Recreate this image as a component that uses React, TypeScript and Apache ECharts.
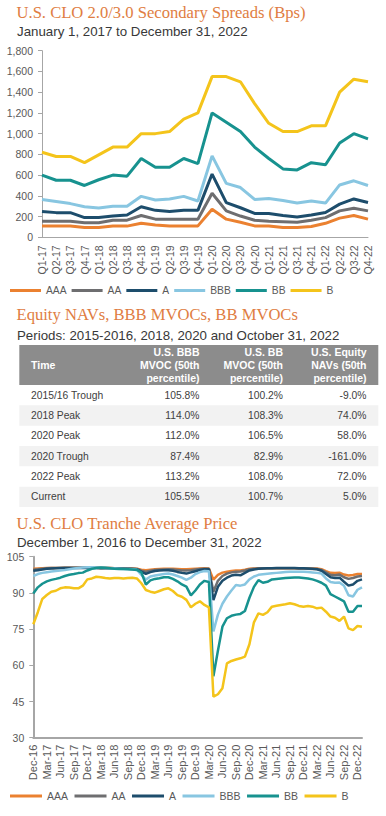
import React, { useEffect, useRef } from "react";
import * as echarts from "echarts";

// ---------- Chart 1: U.S. CLO 2.0/3.0 Secondary Spreads (Bps) ----------
const quarters = ["Q1-17","Q2-17","Q3-17","Q4-17","Q1-18","Q2-18","Q3-18","Q4-18","Q1-19","Q2-19","Q3-19","Q4-19","Q1-20","Q2-20","Q3-20","Q4-20","Q1-21","Q2-21","Q3-21","Q4-21","Q1-22","Q2-22","Q3-22","Q4-22"];
const spreadAAA = [110,110,110,95,95,108,108,135,118,110,110,110,270,175,145,110,110,95,95,105,135,185,210,175];
const spreadAA = [155,155,155,140,140,165,165,210,175,175,175,175,425,255,205,165,155,150,145,165,190,255,280,255];
const spreadA = [250,238,238,190,190,205,215,295,260,250,260,260,610,335,285,230,230,210,195,215,240,320,370,335];
const spreadBBB = [365,345,325,295,282,300,300,395,360,370,395,350,785,520,480,365,375,355,330,350,330,505,545,500];
const spreadBB = [600,550,550,500,555,600,590,760,675,675,760,710,1200,1110,1020,870,760,660,650,720,700,910,1000,950];
const spreadB = [820,780,780,720,795,870,870,1000,1000,1020,1140,1200,1550,1550,1500,1290,1100,1020,1020,1075,1075,1400,1525,1500];

// ---------- Table: Equity NAVs, BBB MVOCs, BB MVOCs ----------
const tableHeaders = ["Time", "U.S. BBB\nMVOC (50th\npercentile)", "U.S. BB\nMVOC (50th\npercentile)", "U.S. Equity\nNAVs (50th\npercentile)"];
const tableTimes = ["2015/16 Trough", "2018 Peak", "2020 Peak", "2020 Trough", "2022 Peak", "Current"];
const bbbMvoc = [105.8, 114.0, 112.0, 87.4, 113.2, 105.5];
const bbMvoc = [100.2, 108.3, 106.5, 82.9, 108.0, 100.7];
const equityNavs = [-9.0, 74.0, 58.0, -161.0, 72.0, 5.0];

// ---------- Chart 2: U.S. CLO Tranche Average Price (monthly) ----------
const priceDates = [
  "2016-12-01",
  "2017-01-01","2017-02-01","2017-03-01","2017-04-01","2017-05-01","2017-06-01","2017-07-01","2017-08-01","2017-09-01","2017-10-01","2017-11-01","2017-12-01",
  "2018-01-01","2018-02-01","2018-03-01","2018-04-01","2018-05-01","2018-06-01","2018-07-01","2018-08-01","2018-09-01","2018-10-01","2018-11-01","2018-12-01",
  "2019-01-01","2019-02-01","2019-03-01","2019-04-01","2019-05-01","2019-06-01","2019-07-01","2019-08-01","2019-09-01","2019-10-01","2019-11-01","2019-12-01",
  "2020-01-01","2020-02-01","2020-03-01","2020-04-01","2020-05-01","2020-06-01","2020-07-01","2020-08-01","2020-09-01","2020-10-01","2020-11-01","2020-12-01",
  "2021-01-01","2021-02-01","2021-03-01","2021-04-01","2021-05-01","2021-06-01","2021-07-01","2021-08-01","2021-09-01","2021-10-01","2021-11-01","2021-12-01",
  "2022-01-01","2022-02-01","2022-03-01","2022-04-01","2022-05-01","2022-06-01","2022-07-01","2022-08-01","2022-09-01","2022-10-01","2022-11-01","2022-12-01",
  "2022-12-31"
];
const priceAAA = [
  100.0,
  100.1,100.2,100.3,100.3,100.3,100.3,100.4,100.4,100.4,100.4,100.4,100.4,
  100.4,100.4,100.3,100.3,100.3,100.2,100.2,100.2,100.1,100.1,100.0,99.6,
  99.4,99.6,99.8,99.9,100.0,100.0,100.0,99.9,99.8,99.8,99.9,100.0,
  100.1,100.2,100.1,95.5,97.5,98.4,98.8,99.1,99.3,99.3,99.6,100.0,
  100.1,100.2,100.2,100.2,100.2,100.2,100.2,100.2,100.2,100.2,100.1,100.1,
  100.1,100.1,100.1,99.8,99.0,98.3,98.2,98.4,97.6,97.2,97.4,97.8,
  97.8
];
const priceAA = [
  99.6,
  99.8,100.0,100.2,100.3,100.3,100.3,100.4,100.4,100.4,100.4,100.4,100.4,
  100.4,100.4,100.3,100.3,100.3,100.2,100.2,100.1,100.1,100.0,99.9,99.2,
  98.8,99.2,99.5,99.6,99.7,99.8,99.7,99.5,99.3,99.3,99.4,99.7,
  99.9,100.0,100.0,90.5,95.0,97.0,98.0,98.5,98.8,98.9,99.3,99.8,
  100.0,100.1,100.2,100.2,100.2,100.2,100.2,100.2,100.2,100.2,100.1,100.1,
  100.0,99.9,99.9,99.5,98.5,97.5,97.3,97.6,96.5,95.8,96.2,96.8,
  97.0
];
const priceA = [
  99.2,
  99.4,99.7,100.0,100.1,100.2,100.3,100.3,100.3,100.3,100.3,100.3,100.3,
  100.3,100.3,100.2,100.2,100.2,100.1,100.1,100.0,100.0,99.9,99.8,98.8,
  97.9,98.6,99.1,99.3,99.4,99.4,99.2,98.7,98.3,98.0,98.5,99.0,
  99.5,99.8,99.8,87.0,92.5,95.0,96.3,97.2,97.5,97.3,98.3,99.3,
  99.7,100.0,100.1,100.2,100.2,100.3,100.3,100.3,100.3,100.3,100.2,100.2,
  100.1,100.0,99.8,99.2,97.8,96.5,96.2,96.3,94.6,93.0,93.5,95.0,
  95.6
];
const priceBBB = [
  97.0,
  97.8,98.3,98.6,98.9,99.1,99.3,99.5,99.8,100.1,100.3,100.5,100.6,
  100.6,100.5,100.4,100.3,100.2,100.1,100.0,99.9,99.9,99.8,99.6,97.5,
  95.5,96.8,97.2,97.5,97.8,98.0,97.6,97.0,96.3,95.4,96.3,97.8,
  98.6,99.1,99.0,74.0,81.0,85.5,88.5,91.0,93.3,93.0,93.5,95.6,
  96.8,97.5,97.7,97.9,98.1,98.3,98.5,98.7,98.8,98.8,98.8,98.8,
  98.7,98.5,98.3,98.0,96.0,94.5,94.2,94.3,93.0,89.0,88.5,91.3,
  92.3
];
const priceBB = [
  89.8,
  92.3,93.8,94.8,95.4,95.8,96.3,97.0,97.5,97.8,98.2,98.4,99.3,
  100.0,100.3,100.5,100.4,100.2,100.0,99.9,99.9,99.8,99.7,99.5,98.5,
  93.5,95.2,95.8,96.1,96.5,96.5,95.8,94.8,93.5,92.6,89.0,91.0,
  93.5,95.0,94.5,55.5,66.0,76.0,79.5,80.5,81.0,81.3,82.5,88.0,
  92.5,95.3,94.2,94.6,95.6,95.8,96.0,96.2,96.3,96.4,96.4,96.2,
  96.0,95.6,95.0,94.2,93.0,89.5,88.5,87.5,86.5,82.2,82.2,84.6,
  84.6
];
const priceB = [
  77.0,
  82.0,87.5,89.1,90.5,90.9,91.9,92.3,92.2,91.9,91.9,93.0,95.6,
  96.0,96.7,96.5,96.2,96.0,96.2,96.2,96.0,96.2,96.3,96.0,94.0,
  91.2,90.5,90.1,90.8,91.5,91.9,90.8,89.1,88.4,87.1,84.0,85.5,
  86.5,85.0,84.0,47.0,48.0,50.5,60.8,61.8,62.4,62.9,63.6,68.7,
  77.8,81.5,80.9,82.0,84.3,84.7,85.0,85.3,85.7,85.3,84.6,84.3,
  84.6,84.3,83.6,83.9,82.2,80.2,79.7,78.4,80.2,75.3,74.6,76.3,
  76.0
];

const seriesNames = ["AAA", "AA", "A", "BBB", "BB", "B"];
const seriesColors = ["#EB8130", "#6E6E70", "#1D4D6C", "#88C6E1", "#17928F", "#F4C41B"];

const SANS = "Liberation Sans, Arial, sans-serif";
const SERIF = "Liberation Serif, Times New Roman, serif";
const TITLE_COLOR = "#E07D42";
const SUB_COLOR = "#383838";
const LABEL_COLOR = "#595959";
const MONTHS = ["Jan","Feb","Mar","Apr","May","Jun","Jul","Aug","Sep","Oct","Nov","Dec"];

function fmtPct(v: number) {
  return v.toFixed(1) + "%";
}

function buildTable() {
  const els: any[] = [];
  const left = 19.3;
  const width = 359;
  const headTop = 345;
  const headH = 40;
  const rowH = 20.33;
  const colRight = [0, 199.5, 283, 366.5];
  els.push({ type: "rect", shape: { x: left, y: headTop, width, height: headH }, style: { fill: "#8C8C8C" }, silent: true });
  const hy = headTop + headH / 2;
  tableHeaders.forEach((h, i) => {
    els.push({
      type: "text",
      x: i === 0 ? 31 : colRight[i],
      y: hy,
      style: {
        text: h,
        fill: "#ffffff",
        fontFamily: SANS,
        fontSize: 10.5,
        fontWeight: "bold",
        lineHeight: 13.3,
        align: i === 0 ? "left" : "right",
        verticalAlign: "middle",
      },
      silent: true,
    });
  });
  tableTimes.forEach((t, r) => {
    const top = headTop + headH + r * rowH;
    if (r % 2 === 1) {
      els.push({ type: "rect", shape: { x: left, y: top, width, height: rowH }, style: { fill: "#F2F2F2" }, silent: true });
    }
    const cy = top + rowH / 2;
    const cells = [t, fmtPct(bbbMvoc[r]), fmtPct(bbMvoc[r]), fmtPct(equityNavs[r])];
    cells.forEach((c, i) => {
      els.push({
        type: "text",
        x: i === 0 ? 31 : colRight[i],
        y: cy,
        style: {
          text: c,
          fill: "#404040",
          fontFamily: SANS,
          fontSize: 10.3,
          align: i === 0 ? "left" : "right",
          verticalAlign: "middle",
        },
        silent: true,
      });
    });
  });
  return els;
}

export default function App() {
  const ref = useRef<HTMLDivElement>(null);
  useEffect(() => {
    document.body.style.margin = "0";
    if (!ref.current) return;
    const chart = echarts.init(ref.current, undefined, { renderer: "svg", width: 386, height: 816 });

    const spreads = [spreadAAA, spreadAA, spreadA, spreadBBB, spreadBB, spreadB];
    const prices = [priceAAA, priceAA, priceA, priceBBB, priceBB, priceB];

    const titleStyle = (size: number, color: string, family: string) => ({
      fontFamily: family,
      fontSize: size,
      fontWeight: "normal" as const,
      color,
      lineHeight: Math.round(size * 1.2),
    });

    const option: any = {
      animation: false,
      backgroundColor: "#ffffff",
      title: [
        { text: "U.S. CLO 2.0/3.0 Secondary Spreads (Bps)", left: 16.5, top: 2.2, padding: 0, textStyle: titleStyle(16.6, TITLE_COLOR, SERIF) },
        { text: "January 1, 2017 to December 31, 2022", left: 17, top: 23.4, padding: 0, textStyle: titleStyle(13.3, SUB_COLOR, SANS) },
        { text: "Equity NAVs, BBB MVOCs, BB MVOCs", left: 16.5, top: 304.4, padding: 0, textStyle: titleStyle(16.6, TITLE_COLOR, SERIF) },
        { text: "Periods: 2015-2016, 2018, 2020 and October 31, 2022", left: 17, top: 327.5, padding: 0, textStyle: titleStyle(13.3, SUB_COLOR, SANS) },
        { text: "U.S. CLO Tranche Average Price", left: 16.5, top: 513.9, padding: 0, textStyle: titleStyle(16.6, TITLE_COLOR, SERIF) },
        { text: "December 1, 2016 to December 31, 2022", left: 17, top: 534.7, padding: 0, textStyle: titleStyle(13.3, SUB_COLOR, SANS) },
      ],
      legend: [
        {
          data: seriesNames,
          left: 10,
          top: 285.5,
          icon: "rect",
          itemWidth: 31,
          itemHeight: 3,
          itemGap: 5,
          padding: 0,
          textStyle: { fontFamily: SANS, fontSize: 10.3, color: LABEL_COLOR },
          selectedMode: false,
        },
        {
          data: seriesNames,
          left: 10,
          top: 790.5,
          icon: "rect",
          itemWidth: 32,
          itemHeight: 3,
          itemGap: 6.5,
          padding: 0,
          textStyle: { fontFamily: SANS, fontSize: 10.5, color: LABEL_COLOR },
          selectedMode: false,
        },
      ],
      grid: [
        { left: 42, top: 50.7, width: 326, height: 186.6, containLabel: false },
        { left: 33.3, top: 556.7, width: 328.7, height: 181, containLabel: false },
      ],
      xAxis: [
        {
          gridIndex: 0,
          type: "category",
          data: quarters,
          boundaryGap: false,
          axisLine: { show: true, lineStyle: { color: "#A6A6A6", width: 1 } },
          axisTick: { show: false },
          axisLabel: { rotate: 90, interval: 0, fontFamily: SANS, fontSize: 10.5, color: LABEL_COLOR, margin: 8 },
          splitLine: { show: false },
        },
        {
          gridIndex: 1,
          type: "category",
          data: priceDates,
          boundaryGap: false,
          axisLine: { show: true, lineStyle: { color: "#A6A6A6", width: 2 } },
          axisTick: { show: false },
          axisLabel: {
            rotate: 90,
            interval: 2,
            fontFamily: SANS,
            fontSize: 11,
            color: LABEL_COLOR,
            margin: 7,
            formatter: (v: string) => {
              const [y, m] = v.split("-");
              return MONTHS[parseInt(m, 10) - 1] + "-" + y.slice(2);
            },
          },
          splitLine: { show: false },
        },
      ],
      yAxis: [
        {
          gridIndex: 0,
          type: "value",
          min: 0,
          max: 1800,
          interval: 200,
          axisLine: { show: true, lineStyle: { color: "#A6A6A6", width: 1 } },
          axisTick: { show: true, length: 4, lineStyle: { color: "#A6A6A6" } },
          splitLine: { show: false },
          axisLabel: {
            fontFamily: SANS,
            fontSize: 10.5,
            color: LABEL_COLOR,
            margin: 9,
            formatter: (v: number) => v.toLocaleString("en-US"),
          },
        },
        {
          gridIndex: 1,
          type: "value",
          min: 30,
          max: 105,
          interval: 15,
          axisLine: { show: true, lineStyle: { color: "#A6A6A6", width: 2 } },
          axisTick: { show: true, length: 4, lineStyle: { color: "#A6A6A6" } },
          splitLine: { show: false },
          axisLabel: { fontFamily: SANS, fontSize: 10.5, color: LABEL_COLOR, margin: 9 },
        },
      ],
      series: [
        ...seriesNames.map((name, i) => ({
          name,
          type: "line",
          xAxisIndex: 0,
          yAxisIndex: 0,
          data: spreads[i],
          showSymbol: false,
          symbol: "none",
          color: seriesColors[i],
          lineStyle: { width: 3, color: seriesColors[i] },
          z: 2 + i,
        })),
        ...seriesNames.map((name, i) => ({
          name,
          type: "line",
          xAxisIndex: 1,
          yAxisIndex: 1,
          data: prices[i],
          showSymbol: false,
          symbol: "none",
          color: seriesColors[i],
          lineStyle: { width: 2.5, color: seriesColors[i] },
          z: 2 + i,
        })),
      ],
      graphic: buildTable(),
    };

    chart.setOption(option);
    return () => {
      chart.dispose();
    };
  }, []);

  return <div ref={ref} style={{ width: 386, height: 816 }} />;
}
